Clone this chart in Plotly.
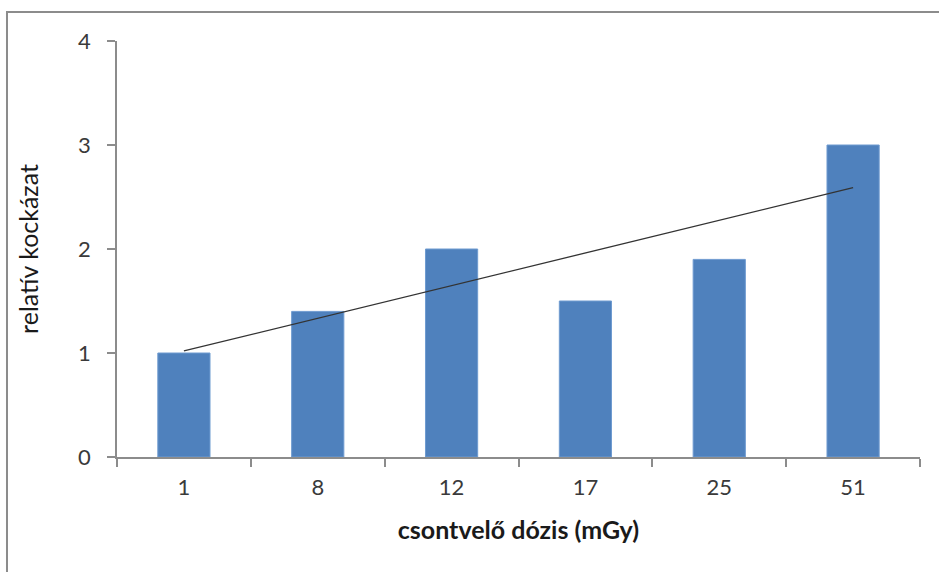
import plotly.graph_objects as go

# adatok
doses = ["1", "8", "12", "17", "25", "51"]
risk = [1.0, 1.4, 2.0, 1.5, 1.9, 3.0]

# lineáris trendvonal végpontjai (leolvasva)
trend_x = ["1", "51"]
trend_y = [1.02, 2.59]

y_ticks = [0, 1, 2, 3, 4]

FONT = "Lato, 'Open Sans', sans-serif"
AXIS_GRAY = "#8c8c8c"

fig = go.Figure()

fig.add_trace(go.Bar(
    x=doses, y=risk,
    marker=dict(color="#4f81bd", line=dict(color="#6f9bd0", width=1)),
    showlegend=False,
))

fig.add_trace(go.Scatter(
    x=trend_x, y=trend_y,
    mode="lines", line=dict(color="#333333", width=1.3),
    showlegend=False,
))

fig.update_layout(
    width=939, height=572,
    paper_bgcolor="white", plot_bgcolor="white",
    margin=dict(l=117, r=19, t=41, b=115),
    bargap=0.61,
    font=dict(family=FONT, color="#3a3a3a"),
    xaxis=dict(
        type="category",
        showline=True, linecolor=AXIS_GRAY, linewidth=1.5,
        ticks="outside", tickson="boundaries", ticklen=8, tickcolor=AXIS_GRAY, tickwidth=1.5,
        ticklabelstandoff=10,
        tickfont=dict(size=22), showgrid=False,
        title=dict(text="<b>csontvelő dózis (mGy)</b>", font=dict(size=25, color="#1a1a1a"), standoff=22),
    ),
    yaxis=dict(
        range=[0, 4], tickvals=y_ticks,
        showline=True, linecolor=AXIS_GRAY, linewidth=1.5,
        ticks="outside", ticklen=8, tickcolor=AXIS_GRAY, tickwidth=1.5,
        ticklabelstandoff=12,
        tickfont=dict(size=22), showgrid=False, zeroline=False,
        title=dict(text="relatív kockázat", font=dict(size=25, color="#1a1a1a"), standoff=32),
    ),
    shapes=[dict(
        type="path", xref="paper", yref="paper",
        path="M -0.137 -0.4 L -0.137 1.0697 L 1.03 1.0697",
        line=dict(color="#8c8c8c", width=2),
    )],
)

# a böngésző alapértelmezett 8px-es margója nélkül
fig.write_html("out.html", config={"displayModeBar": False},
               post_script="document.body.style.margin='0';")
